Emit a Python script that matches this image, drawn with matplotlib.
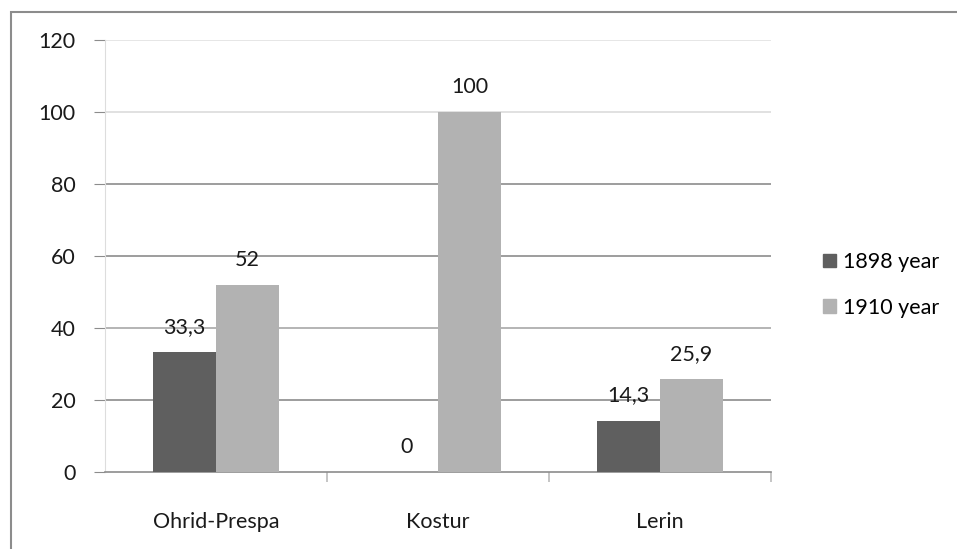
import matplotlib.pyplot as plt
from matplotlib.patches import Rectangle, Patch
import numpy as np

regions = ["Ohrid-Prespa", "Kostur", "Lerin"]
y1898 = [33.3, 0, 14.3]
y1910 = [52, 100, 25.9]
series_names = ["1898 year", "1910 year"]
labels1898 = ["33,3", "0", "14,3"]
labels1910 = ["52", "100", "25,9"]

dark = "#5f5f5f"
light = "#b2b2b2"
txt = "#1a1a1a"

plt.rcParams['font.family'] = ['Lato', 'DejaVu Sans']

fig = plt.figure(figsize=(9.57, 5.49), dpi=100)
ax = fig.add_axes([105/957, 1 - 472/549, 666/957, 432/549])

x = np.arange(len(regions))
w = 0.284
b1 = ax.bar(x - w/2, y1898, w, color=dark, zorder=3)
b2 = ax.bar(x + w/2, y1910, w, color=light, zorder=3)

for bars, labs in ((b1, labels1898), (b2, labels1910)):
    for r, lab in zip(bars, labs):
        ax.annotate(lab, (r.get_x() + r.get_width()/2, r.get_height()),
                    xytext=(0, 25), textcoords='offset pixels',
                    ha='center', va='center', fontsize=15.5, color=txt)

ax.set_xlim(-0.5, 2.5)
ax.set_ylim(0, 120)
ax.set_yticks(range(0, 121, 20))
ax.tick_params(axis='y', length=8, color='#8c8c8c', labelsize=15.5, pad=13, labelcolor=txt)

# horizontal gridlines
grid_colors = {20: '#8c8c8c', 40: '#a8a8a8', 60: '#8c8c8c', 80: '#8c8c8c', 100: '#dcdcdc', 120: '#e2e2e2'}
for v, c in grid_colors.items():
    ax.axhline(v, color=c, lw=1.2, zorder=1)

ax.set_xticks(x)
ax.set_xticklabels(regions)
ax.tick_params(axis='x', length=0, labelsize=15.5, pad=29, labelcolor=txt)
ax.set_xticks([0.5, 1.5, 2.5], minor=True)
ax.tick_params(axis='x', which='minor', length=7, color='#bbbbbb', width=1.2)

for s in ['top', 'right']:
    ax.spines[s].set_visible(False)
ax.spines['left'].set_color('#dddddd')
ax.spines['bottom'].set_color('#8c8c8c')
ax.spines['bottom'].set_linewidth(1.2)

handles = [Patch(color=dark), Patch(color=light)]
fig.legend(handles, series_names, loc='center left', bbox_to_anchor=(804/957, 1 - 285/549),
           frameon=False, fontsize=15.5, handlelength=0.6, handleheight=0.6,
           handletextpad=0.3, labelspacing=1.2)

fig.add_artist(Rectangle((11/957, -0.1), 1.2, 1 - 12/549 + 0.1, transform=fig.transFigure,
                         fill=False, edgecolor='#8c8c8c', lw=1.5))

fig.savefig("out.png", dpi=100)
